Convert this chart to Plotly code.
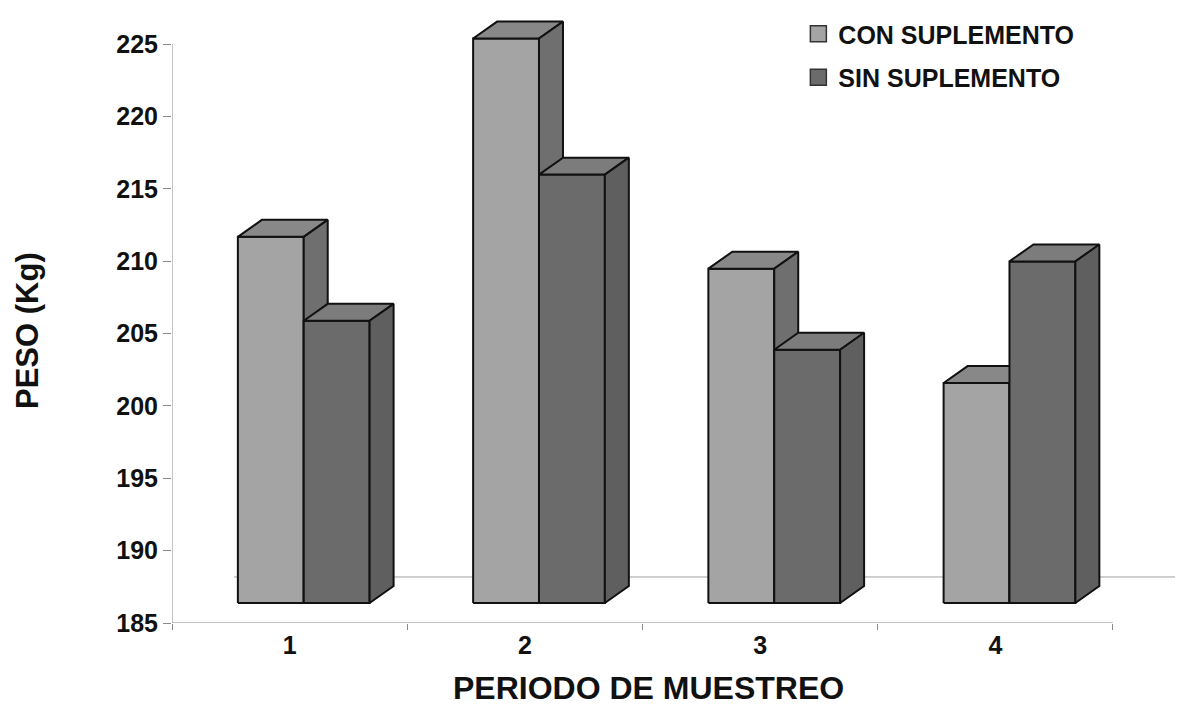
import plotly.graph_objects as go

# --- data -----------------------------------------------------------------
periods = [1, 2, 3, 4]
period_labels = ["1", "2", "3", "4"]
con_suplemento = [210.3, 224.0, 208.1, 200.2]
sin_suplemento = [204.5, 214.6, 202.5, 208.6]
y_tick_values = [185, 190, 195, 200, 205, 210, 215, 220, 225]
series_names = ["CON SUPLEMENTO", "SIN SUPLEMENTO"]

# --- 3-D column geometry (axis units) --------------------------------------
FLOOR = 185.0
BAR_W = 0.28          # width of one column
GROUP_DX = 0.06       # shift of the column pair from the category centre
FRONT_DY = 1.38       # columns stand slightly behind the front edge
DEPTH_DX = 0.102      # oblique depth of a column
DEPTH_DY = 1.17
FLOOR_DX = 0.264      # oblique depth of the floor
FLOOR_DY = 3.18

X_MIN, X_MAX = 0.5, 4.7806
Y_MIN, Y_MAX = 185.0, 227.487

STYLE = {
    "CON SUPLEMENTO": dict(front="#a4a4a4", top="#888888", side="#6f6f6f", offset=GROUP_DX - BAR_W),
    "SIN SUPLEMENTO": dict(front="#6b6b6b", top="#7c7c7c", side="#5f5f5f", offset=GROUP_DX),
}
EDGE = dict(color="#111111", width=2)
FONT = "Liberation Sans, Arial, sans-serif"


def column_faces(xs, values, offset):
    """Polygons (front, top, right side) of 3-D columns, separated by None."""
    front = ([], [])
    top = ([], [])
    side = ([], [])
    for xc, v in zip(xs, values):
        x0 = xc + offset
        x1 = x0 + BAR_W
        yb = FLOOR + FRONT_DY
        yt = v + FRONT_DY
        front[0].extend([x0, x1, x1, x0, x0, None])
        front[1].extend([yb, yb, yt, yt, yb, None])
        top[0].extend([x0, x1, x1 + DEPTH_DX, x0 + DEPTH_DX, x0, None])
        top[1].extend([yt, yt, yt + DEPTH_DY, yt + DEPTH_DY, yt, None])
        side[0].extend([x1, x1 + DEPTH_DX, x1 + DEPTH_DX, x1, x1, None])
        side[1].extend([yb, yb + DEPTH_DY, yt + DEPTH_DY, yt, yb, None])
    return front, top, side


fig = go.Figure()

for name, values in zip(series_names, [con_suplemento, sin_suplemento]):
    st = STYLE[name]
    front, top, side = column_faces(periods, values, st["offset"])
    for (px, py), color in [(front, st["front"]), (top, st["top"]), (side, st["side"])]:
        fig.add_trace(go.Scatter(
            x=px, y=py, mode="lines", fill="toself", fillcolor=color,
            line=EDGE, hoverinfo="skip", showlegend=False,
        ))

# legend entries
for name in series_names:
    st = STYLE[name]
    fig.add_trace(go.Scatter(
        x=[None], y=[None], mode="markers", name=name, legendgroup=name,
        marker=dict(symbol="square", size=16, color=st["front"],
                    line=dict(color="#333333", width=1.5)),
    ))

# axis lines and floor
fig.add_shape(type="line", xref="x", yref="y", x0=0.5, x1=0.5, y0=Y_MIN, y1=225,
              line=dict(color="#8a8a8a", width=1), layer="below")
fig.add_shape(type="line", xref="x", yref="y", x0=0.5, x1=4.5, y0=FLOOR, y1=FLOOR,
              line=dict(color="#8a8a8a", width=1), layer="below")
fig.add_shape(type="line", xref="x", yref="y", x0=0.5 + FLOOR_DX, x1=4.5 + FLOOR_DX,
              y0=FLOOR + FLOOR_DY, y1=FLOOR + FLOOR_DY,
              line=dict(color="#a0a0a0", width=1), layer="below")

fig.add_annotation(text="<b>PERIODO DE MUESTREO</b>", xref="paper", yref="paper",
                   x=0.4727, y=-0.1057, xanchor="center", yanchor="middle",
                   showarrow=False, font=dict(family=FONT, size=32, color="#111111"))
fig.add_annotation(text="<b>PESO (Kg)</b>", xref="paper", yref="paper",
                   x=-0.144, y=0.4764, xanchor="center", yanchor="middle", textangle=-90,
                   showarrow=False, font=dict(family=FONT, size=31, color="#111111"))

fig.update_layout(
    width=1179, height=707,
    margin=dict(l=172, r=0, t=8, b=84),
    paper_bgcolor="white", plot_bgcolor="white",
    font=dict(family=FONT, color="#111111"),
    xaxis=dict(
        range=[X_MIN, X_MAX], showgrid=False, zeroline=False, showline=False,
        tickmode="array", tickvals=periods, ticktext=period_labels, ticks="",
        tickfont=dict(family=FONT, size=25, weight="bold", color="#111111"),
        ticklabelstandoff=5,
        minor=dict(tickmode="array", tickvals=[0.5, 1.5, 2.5, 3.5, 4.5], ticks="outside",
                   ticklen=6, tickcolor="#8a8a8a", tickwidth=1, showgrid=False),
    ),
    yaxis=dict(
        range=[Y_MIN, Y_MAX], showgrid=False, zeroline=False, showline=False,
        tickmode="array", tickvals=y_tick_values, ticks="outside", ticklen=8,
        tickcolor="#8a8a8a", tickwidth=1,
        tickfont=dict(family=FONT, size=25, weight="bold", color="#111111"),
    ),
    legend=dict(
        x=0.622, y=0.995, xanchor="left", yanchor="top",
        bgcolor="rgba(0,0,0,0)", traceorder="grouped", tracegroupgap=8,
        font=dict(family=FONT, size=25, weight="bold", color="#111111"),
    ),
    showlegend=True,
)

fig.write_html("out.html")
